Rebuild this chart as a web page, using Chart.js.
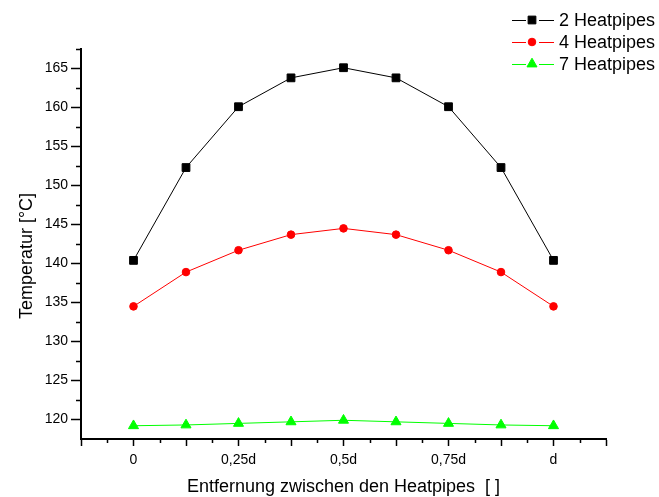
<!DOCTYPE html>
<html>
<head>
<meta charset="utf-8">
<script src="https://cdn.jsdelivr.net/npm/chart.js@4.4.1/dist/chart.umd.min.js"></script>
<style>
  html, body { margin: 0; padding: 0; background: #fff; }
  #wrap { width: 659px; height: 497px; }
</style>
</head>
<body>
<div id="wrap"><canvas id="chart"></canvas></div>
<script>
// Position between two heatpipes, as a fraction of the spacing d
const POSITIONS = [0, 0.125, 0.25, 0.375, 0.5, 0.625, 0.75, 0.875, 1];

// Temperature in °C at each position
const TEMP_2_PIPES = [140.4, 152.3, 160.1, 163.8, 165.1, 163.8, 160.1, 152.3, 140.4];
const TEMP_4_PIPES = [134.5, 138.9, 141.7, 143.7, 144.5, 143.7, 141.7, 138.9, 134.5];
const TEMP_7_PIPES = [119.2, 119.3, 119.5, 119.7, 119.9, 119.7, 119.5, 119.3, 119.2];

const SERIES_NAMES = ['2 Heatpipes', '4 Heatpipes', '7 Heatpipes'];

const X_TICK_VALUES = [0, 0.25, 0.5, 0.75, 1];
const X_TICK_LABELS = ['0', '0,25d', '0,5d', '0,75d', 'd'];

const X_TITLE = 'Entfernung zwischen den Heatpipes  [ ]';
const Y_TITLE = 'Temperatur [°C]';

const FONT = '"Liberation Sans", Arial, sans-serif';

function toPoints(values) {
    return POSITIONS.map((x, i) => ({ x: x, y: values[i] }));
}

function makeSeries(label, values, color, style, radius) {
    return {
        label: label,
        data: toPoints(values),
        borderColor: color,
        backgroundColor: color,
        borderWidth: 1,
        pointStyle: style,
        pointRadius: radius,
        pointBorderWidth: 1,
        pointBackgroundColor: color,
        pointBorderColor: color,
        tension: 0
    };
}

// minor ticks, axis titles and the line+symbol legend
const decorations = {
    id: 'decorations',
    afterDraw(chart) {
        const ctx = chart.ctx;
        const area = chart.chartArea;
        const xs = chart.scales.x;
        const ys = chart.scales.y;

        ctx.save();
        ctx.strokeStyle = '#000';
        ctx.lineWidth = 1.5;
        ctx.beginPath();
        for (let v = xs.min + 0.0625; v < xs.max; v += 0.125) {
            const px = Math.round(xs.getPixelForValue(v)) + 0.5;
            ctx.moveTo(px, area.bottom);
            ctx.lineTo(px, area.bottom + 4);
        }
        for (let v = 122.5; v < ys.max + 0.01; v += 5) {
            const py = Math.round(ys.getPixelForValue(v)) + 0.5;
            ctx.moveTo(area.left, py);
            ctx.lineTo(area.left - 5, py);
        }
        ctx.stroke();

        ctx.fillStyle = '#000';
        ctx.font = '18px ' + FONT;
        ctx.textAlign = 'center';
        ctx.textBaseline = 'middle';
        ctx.fillText(X_TITLE, (area.left + area.right) / 2, area.bottom + 48);

        ctx.save();
        ctx.translate(area.left - 54, (area.top + area.bottom) / 2 + 12);
        ctx.rotate(-Math.PI / 2);
        ctx.fillText(Y_TITLE, 0, 0);
        ctx.restore();

        // legend: short line on each side of the symbol, then the name
        ctx.textAlign = 'left';
        chart.data.datasets.forEach((ds, i) => {
            const y = 20 + i * 22;
            ctx.strokeStyle = ds.borderColor;
            ctx.lineWidth = 1;
            ctx.beginPath();
            ctx.moveTo(512, y + 0.5);
            ctx.lineTo(526, y + 0.5);
            ctx.moveTo(539, y + 0.5);
            ctx.lineTo(554, y + 0.5);
            ctx.stroke();
            ctx.fillStyle = ds.pointBackgroundColor;
            ctx.strokeStyle = ds.pointBorderColor;
            Chart.helpers.drawPoint(ctx, {
                pointStyle: ds.pointStyle,
                radius: ds.pointRadius,
                rotation: 0,
                borderWidth: 1
            }, 532, y);
            ctx.fillStyle = '#000';
            ctx.fillText(ds.label, 559, y + 1);
        });
        ctx.restore();
    }
};

new Chart(document.getElementById('chart'), {
    type: 'line',
    data: {
        datasets: [
            makeSeries(SERIES_NAMES[0], TEMP_2_PIPES, '#000000', 'rect', 5.5),
            makeSeries(SERIES_NAMES[1], TEMP_4_PIPES, '#ff0000', 'circle', 3.8),
            makeSeries(SERIES_NAMES[2], TEMP_7_PIPES, '#00ff00', 'triangle', 5.8)
        ]
    },
    options: {
        responsive: true,
        maintainAspectRatio: false,
        animation: false,
        layout: {
            padding: { left: 0, top: 49, right: 53, bottom: 0 }
        },
        plugins: {
            legend: { display: false },
            tooltip: { enabled: false }
        },
        scales: {
            x: {
                type: 'linear',
                min: -0.125,
                max: 1.125,
                border: { display: true, color: '#000', width: 2 },
                grid: {
                    drawOnChartArea: false,
                    drawTicks: true,
                    tickLength: 7,
                    tickWidth: 1.5,
                    tickColor: '#000'
                },
                ticks: {
                    stepSize: 0.125,
                    autoSkip: false,
                    maxRotation: 0,
                    padding: 6,
                    color: '#000',
                    font: { family: FONT, size: 14 },
                    callback: function(value) {
                        const idx = X_TICK_VALUES.findIndex(v => Math.abs(v - value) < 1e-6);
                        return idx >= 0 ? X_TICK_LABELS[idx] : '';
                    }
                },
                afterFit: function(scale) { scale.height = 58; }
            },
            y: {
                min: 117.5,
                max: 167.5,
                border: { display: true, color: '#000', width: 2 },
                grid: {
                    drawOnChartArea: false,
                    drawTicks: true,
                    tickLength: 10,
                    tickWidth: 1.5,
                    tickColor: function(context) {
                        const v = context.tick ? context.tick.value : 0;
                        return Math.abs(v % 5) < 1e-6 ? '#000' : 'rgba(0,0,0,0)';
                    }
                },
                ticks: {
                    stepSize: 2.5,
                    autoSkip: false,
                    padding: 3,
                    color: '#000',
                    font: { family: FONT, size: 14 },
                    callback: function(value) {
                        return Math.abs(value % 5) < 1e-6 ? String(value) : '';
                    }
                },
                afterFit: function(scale) { scale.width = 81; }
            }
        }
    },
    plugins: [decorations]
});
</script>
</body>
</html>
